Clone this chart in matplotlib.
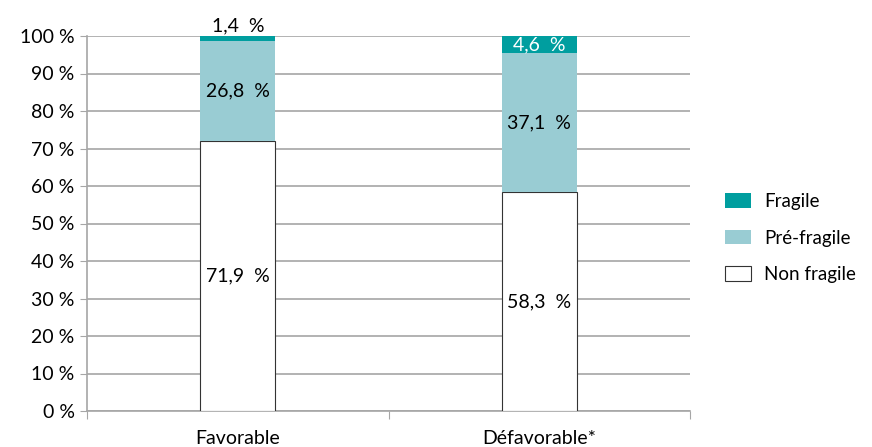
import matplotlib
matplotlib.use("Agg")
import matplotlib.pyplot as plt
from matplotlib.patches import Patch

plt.rcParams['font.family'] = ['Lato', 'DejaVu Sans']

categories = ["Favorable", "Défavorable*"]
non_fragile = [71.9, 58.3]
pre_fragile = [26.8, 37.1]
fragile = [1.4, 4.6]
yticks = [0, 10, 20, 30, 40, 50, 60, 70, 80, 90, 100]

c_frag = "#009E9F"
c_pre = "#99CCD3"

fig = plt.figure(figsize=(8.72, 4.47), dpi=100)
ax = fig.add_axes([87/872, 36/447, (690-87)/872, (411-36)/447])

x = list(range(len(categories)))
w = 0.25
ax.bar(x, non_fragile, w, color="white", edgecolor="#333333", linewidth=0.8, zorder=3)
ax.bar(x, pre_fragile, w, bottom=non_fragile, color=c_pre, edgecolor="none", zorder=3)
bott = [a + b for a, b in zip(non_fragile, pre_fragile)]
ax.bar(x, fragile, w, bottom=bott, color=c_frag, edgecolor="none", zorder=3)

def fmt(v):
    return f"{v:.1f}".replace(".", ",") + "  %"

fs = 14
for i in x:
    ax.text(i, non_fragile[i] / 2, fmt(non_fragile[i]), ha="center", va="center", fontsize=fs, zorder=4)
    ax.text(i, non_fragile[i] + pre_fragile[i] / 2, fmt(pre_fragile[i]), ha="center", va="center", fontsize=fs, zorder=4)
    if fragile[i] < 3:
        ax.text(i, 100.3, fmt(fragile[i]), ha="center", va="bottom", fontsize=fs, zorder=4)
    else:
        ax.text(i, bott[i] + fragile[i] / 2, fmt(fragile[i]), ha="center", va="center", fontsize=fs, color="white", zorder=4)

ax.set_xlim(-0.5, 1.5)
ax.set_ylim(0, 100)
ax.set_yticks(yticks)
ax.set_yticklabels([f"{t} %" for t in yticks], fontsize=fs)
ax.yaxis.grid(True, color="#A6A6A6", linewidth=1.2, zorder=0)
ax.tick_params(axis="y", length=5, color="#A6A6A6", pad=4)

ax.set_xticks([-0.5, 0.5, 1.5])
ax.set_xticklabels([])
ax.set_xticks(x, minor=True)
ax.set_xticklabels(categories, minor=True, fontsize=fs)
ax.tick_params(axis="x", which="major", length=6, color="#A6A6A6")
ax.tick_params(axis="x", which="minor", length=0, pad=14)

for s in ["top", "right"]:
    ax.spines[s].set_visible(False)
ax.spines["left"].set_color("#A6A6A6")
ax.spines["bottom"].set_color("#A6A6A6")
ax.spines["left"].set_linewidth(1.2)
ax.spines["bottom"].set_linewidth(1.2)

handles = [Patch(facecolor=c_frag, edgecolor="none", label="Fragile"),
           Patch(facecolor=c_pre, edgecolor="none", label="Pré-fragile"),
           Patch(facecolor="white", edgecolor="#333333", linewidth=0.8, label="Non fragile")]
fig.legend(handles=handles, loc="center left", bbox_to_anchor=(725/872, 1 - 238/447),
           frameon=False, fontsize=13.5, handlelength=1.4, handleheight=0.85,
           labelspacing=1.05, handletextpad=0.7, borderpad=0, borderaxespad=0)

fig.savefig("out.png", dpi=100)
